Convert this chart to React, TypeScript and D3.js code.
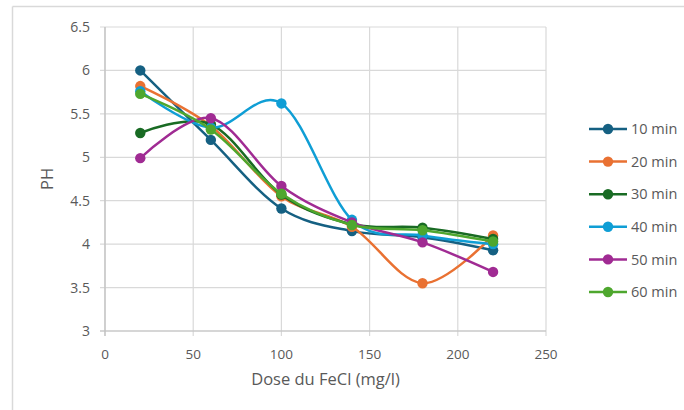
import React from "react";
import * as d3 from "d3";

const doses = [20, 60, 100, 140, 180, 220];
const seriesNames = ["10 min", "20 min", "30 min", "40 min", "50 min", "60 min"];
const ph10 = [6.0, 5.2, 4.41, 4.15, 4.08, 3.93];
const ph20 = [5.82, 5.36, 4.55, 4.2, 3.55, 4.1];
const ph30 = [5.28, 5.38, 4.57, 4.23, 4.19, 4.06];
const ph40 = [5.76, 5.34, 5.62, 4.28, 4.1, 4.0];
const ph50 = [4.99, 5.45, 4.67, 4.25, 4.02, 3.68];
const ph60 = [5.73, 5.32, 4.58, 4.22, 4.16, 4.03];
const colors = ["#156082", "#E97132", "#196B24", "#0F9ED5", "#A02B93", "#4EA72E"];
const xTicks = [0, 50, 100, 150, 200, 250];
const yTicks = [3, 3.5, 4, 4.5, 5, 5.5, 6, 6.5];

const allSeries = [ph10, ph20, ph30, ph40, ph50, ph60];

export default function App() {
  const W = 684, H = 410;
  const x = d3.scaleLinear().domain([0, 250]).range([105, 546]);
  const y = d3.scaleLinear().domain([3, 6.5]).range([331, 27]);
  const line = d3
    .line<[number, number]>()
    .x((d) => x(d[0]))
    .y((d) => y(d[1]))
    .curve(d3.curveCardinal.tension(0));
  const font = "'Open Sans', 'Liberation Sans', sans-serif";
  const txt = "#595959";
  const grid = "#d9d9d9";
  const legendY = (i: number) => 129 + i * 32.6;

  return (
    <svg
      width={W}
      height={H}
      style={{ position: "absolute", left: 0, top: 0, background: "#fff" }}
      fontFamily={font}
    >
      <rect x={0} y={0} width={W} height={H} fill="#fff" />
      {/* chart border */}
      <line x1={12.5} y1={6.5} x2={W} y2={6.5} stroke={grid} strokeWidth={1.5} />
      <line x1={12.5} y1={6.5} x2={12.5} y2={H} stroke={grid} strokeWidth={1.5} />

      {/* gridlines */}
      {yTicks.map((t) => (
        <g key={"y" + t}>
          <line x1={x(0) - 5} x2={x(250)} y1={y(t)} y2={y(t)} stroke={grid} strokeWidth={1.2} />
          <text x={x(0) - 15} y={y(t)} dy="0.36em" textAnchor="end" fontSize={14} fill={txt}>
            {String(t)}
          </text>
        </g>
      ))}
      {xTicks.map((t) => (
        <g key={"x" + t}>
          <line x1={x(t)} x2={x(t)} y1={y(6.5)} y2={y(3) + 5} stroke={grid} strokeWidth={1.2} />
          <text x={x(t)} y={359} textAnchor="middle" fontSize={13.5} fill={txt}>
            {t}
          </text>
        </g>
      ))}
      <line x1={x(0)} x2={x(0)} y1={y(6.5)} y2={y(3) + 5} stroke="#bfbfbf" strokeWidth={1.2} />
      <line x1={x(0) - 5} x2={x(250)} y1={y(3)} y2={y(3)} stroke="#bfbfbf" strokeWidth={1.2} />

      {/* axis titles */}
      <text
        transform={`translate(53,${(y(6.5) + y(3)) / 2}) rotate(-90)`}
        textAnchor="middle"
        fontSize={16.5}
        fill={txt}
      >
        PH
      </text>
      <text x={(x(0) + x(250)) / 2} y={385} textAnchor="middle" fontSize={16.5} fill={txt}>
        Dose du FeCl (mg/l)
      </text>

      {/* series */}
      {allSeries.map((s, i) => {
        const pts: [number, number][] = doses.map((d, j) => [d, s[j]]);
        return (
          <g key={seriesNames[i]}>
            <path d={line(pts) || ""} fill="none" stroke={colors[i]} strokeWidth={2.5} />
            {pts.map((p, j) => (
              <circle key={j} cx={x(p[0])} cy={y(p[1])} r={5.2} fill={colors[i]} />
            ))}
          </g>
        );
      })}

      {/* legend */}
      {seriesNames.map((n, i) => (
        <g key={"lg" + n}>
          <line x1={589} x2={627} y1={legendY(i)} y2={legendY(i)} stroke={colors[i]} strokeWidth={2.5} />
          <circle cx={608} cy={legendY(i)} r={5.2} fill={colors[i]} />
          <text x={631} y={legendY(i)} dy="0.36em" fontSize={14.5} fill={txt}>
            {n}
          </text>
        </g>
      ))}
    </svg>
  );
}
